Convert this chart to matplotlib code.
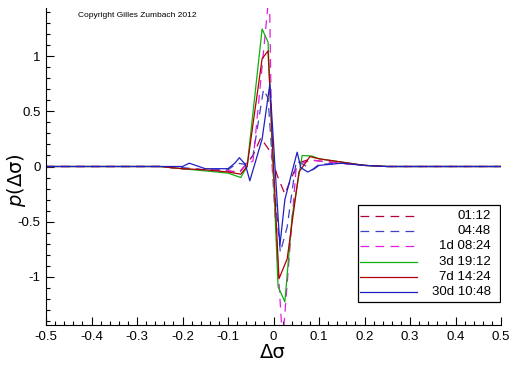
import matplotlib
matplotlib.use("Agg")
import matplotlib.pyplot as plt
from matplotlib.ticker import MultipleLocator
from matplotlib.patches import Rectangle
from matplotlib.lines import Line2D

plt.rcParams['font.family'] = ['Liberation Sans', 'DejaVu Sans']
plt.rcParams['axes.unicode_minus'] = False

# time horizons (legend labels)
labels = ['01:12', '04:48', '1d 08:24', '3d 19:12', '7d 14:24', '30d 10:48']

# curves, one x/y pair per horizon
x_0112 = [-0.5, -0.25, -0.2, -0.15, -0.1, -0.075, -0.06, -0.045, -0.028, -0.008,
          0.008, 0.025, 0.045, 0.06, 0.075, 0.1, 0.15, 0.2, 0.25, 0.5]
y_0112 = [0, 0, -0.02, -0.03, -0.04, -0.05, 0.02, 0.1, 0.26, 0.14,
          -0.08, -0.25, -0.05, 0.04, 0.06, 0.05, 0.03, 0.01, 0, 0]

x_0448 = [-0.5, -0.25, -0.2, -0.15, -0.1, -0.08, -0.062, -0.045, -0.022, -0.012,
          0.0, 0.015, 0.03, 0.05, 0.065, 0.085, 0.1, 0.15, 0.2, 0.25, 0.5]
y_0448 = [0, 0, -0.01, -0.03, -0.03, 0.03, 0.02, 0.1, 0.7, 0.62,
          -0.1, -0.78, -0.55, 0.05, 0.02, -0.03, 0.02, 0.03, 0.01, 0, 0]

x_1d = [-0.5, -0.25, -0.2, -0.15, -0.1, -0.075, -0.06, -0.045, -0.009, -0.003,
        0.02, 0.05, 0.062, 0.085, 0.1, 0.15, 0.2, 0.25, 0.5]
y_1d = [0, 0, -0.02, -0.03, -0.04, -0.06, 0.02, 0.05, 1.6, 0.0,
        -1.6, 0.0, 0.03, 0.06, 0.05, 0.03, 0.01, 0, 0]

x_3d = [-0.5, -0.25, -0.2, -0.15, -0.1, -0.072, -0.058, -0.025, -0.012, 0.01,
        0.025, 0.041, 0.063, 0.085, 0.1, 0.15, 0.2, 0.25, 0.5]
y_3d = [0, 0, -0.02, -0.04, -0.06, -0.1, 0.0, 1.25, 1.13, -1.09,
        -1.23, -0.45, 0.1, 0.095, 0.07, 0.04, 0.01, 0, 0]

x_7d = [-0.5, -0.25, -0.2, -0.15, -0.1, -0.072, -0.058, -0.025, -0.012, 0.012,
        0.03, 0.056, 0.08, 0.1, 0.15, 0.2, 0.25, 0.5]
y_7d = [0, 0, -0.02, -0.03, -0.05, -0.07, 0.0, 0.98, 1.05, -1.02,
        -0.84, -0.05, 0.09, 0.07, 0.04, 0.01, 0, 0]

x_30d = [-0.5, -0.25, -0.2, -0.185, -0.15, -0.1, -0.085, -0.075, -0.062, -0.052,
         -0.025, -0.008, 0.014, 0.025, 0.052, 0.06, 0.075, 0.09, 0.1, 0.15,
         0.2, 0.25, 0.5]
y_30d = [0, 0, 0.0, 0.03, -0.02, -0.02, 0.03, 0.08, 0.02, -0.13,
         0.25, 0.75, -0.72, -0.3, 0.13, -0.01, -0.05, -0.02, 0.01, 0.03,
         0.01, 0, 0]

xs = [x_0112, x_0448, x_1d, x_3d, x_7d, x_30d]
ys = [y_0112, y_0448, y_1d, y_3d, y_7d, y_30d]
colors = ['#b00040', '#4040c8', '#e020e0', '#10b010', '#b00000', '#2020c0']
dash = (0, (7, 5))
styles = [dash, dash, dash, '-', '-', '-']

fig = plt.figure(figsize=(5.12, 3.66), dpi=100)
ax = fig.add_axes([46 / 512, 1 - 325 / 366, 455 / 512, 317 / 366])

for x, y, c, ls in zip(xs, ys, colors, styles):
    ax.plot(x, y, color=c, linestyle=ls, linewidth=0.9)

ax.set_xlim(-0.5, 0.5)
ax.set_ylim(-1.44, 1.44)
ax.xaxis.set_major_locator(MultipleLocator(0.1))
ax.xaxis.set_minor_locator(MultipleLocator(0.02))
ax.yaxis.set_major_locator(MultipleLocator(0.5))
ax.yaxis.set_minor_locator(MultipleLocator(0.1))
ax.xaxis.set_major_formatter(plt.FuncFormatter(lambda v, p: f'{v:g}' if abs(v) > 1e-9 else '0'))
ax.yaxis.set_major_formatter(plt.FuncFormatter(lambda v, p: f'{v:g}' if abs(v) > 1e-9 else '0'))
ax.tick_params(which='major', direction='in', length=6, width=0.8, labelsize=9.5, pad=4)
ax.tick_params(which='minor', direction='in', length=3, width=0.8)
ax.spines['top'].set_visible(False)
ax.spines['right'].set_visible(False)

ax.text(0.07, 0.975, 'Copyright Gilles Zumbach 2012', transform=ax.transAxes,
        fontsize=6, va='center', ha='left')

fig.text(273 / 512, 1 - 352 / 366, 'Δσ', fontsize=14, ha='center', va='center',
         family='DejaVu Sans')
fig.text(16 / 512, 1 - 180 / 366, '$p$(Δσ)', fontsize=14, ha='center', va='center',
         rotation=90, family='DejaVu Sans')

# hand-made legend: line on the left, text right aligned
bx0, bx1 = (358 - 46) / 455, (500 - 46) / 455
by0, by1 = (325 - 302) / 317, (325 - 205) / 317
ax.add_patch(Rectangle((bx0, by0), bx1 - bx0, by1 - by0, transform=ax.transAxes,
                       facecolor='white', edgecolor='black', linewidth=0.9, zorder=5))
for i, (lab, c, ls) in enumerate(zip(labels, colors, styles)):
    yy = (325 - (216 + i * 15.2)) / 317
    ax.add_line(Line2D([(360 - 46) / 455, (417 - 46) / 455], [yy, yy], transform=ax.transAxes,
                       color=c, linestyle=ls, linewidth=0.9, zorder=6))
    ax.text((491 - 46) / 455, yy, lab, transform=ax.transAxes, ha='right', va='center',
            fontsize=9.5, zorder=6)

fig.savefig('out.png', dpi=100)
